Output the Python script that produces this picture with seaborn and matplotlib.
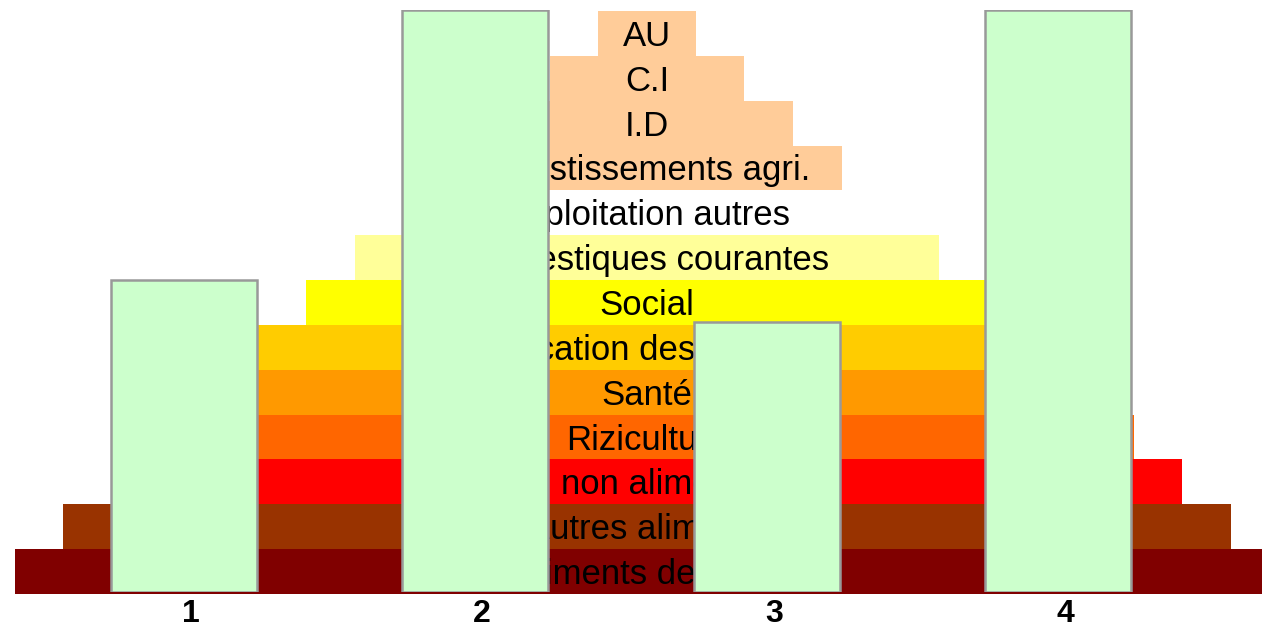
import numpy as np
import seaborn as sns
import matplotlib
matplotlib.use('Agg')
import matplotlib.pyplot as plt
from matplotlib.transforms import ScaledTranslation

# pyramid bands, bottom to top
band_labels = ['Aliments de base', 'Autres aliments', 'Dép. non alimentaires',
               'Riziculture', 'Santé', 'Education des enfants', 'Social',
               'Domestiques courantes', 'Exploitation autres',
               'Investissements agri.', 'I.D', 'C.I', 'AU']
band_widths = [13, 12, 11, 10, 9, 8, 7, 6, 5, 4, 3, 2, 1]
band_colors = ['#800000', '#993300', '#FF0000', '#FF6600', '#FF9900', '#FFCC00',
               '#FFFF00', '#FFFF99', '#FFFFFF', '#FFCC99', '#FFCC99', '#FFCC99',
               '#FFCC99']

# front columns
categories = ['1', '2', '3', '4']
values = [15, 28, 13, 28]

sns.set_theme(style='white')
plt.rcParams['font.family'] = ['Liberation Sans', 'DejaVu Sans']

fig = plt.figure(figsize=(12.62, 6.30), dpi=100)

# background pyramid
ax_bg = fig.add_axes([0, 36 / 630, 1, 583 / 630])
w = np.array(band_widths, dtype=float)
ypos = np.arange(len(band_labels))
ax_bg.barh(ypos, w, left=-w / 2, height=1.0, color=band_colors, linewidth=0)
shift = ScaledTranslation(0, -12.5 / 100, fig.dpi_scale_trans)
for y, lab in zip(ypos, band_labels):
    ax_bg.text(0, y, lab, ha='center', va='baseline', fontsize=25,
               color='black', transform=ax_bg.transData + shift)
ax_bg.set_xlim(-647 / 97.3, (1262 - 647) / 97.3)
ax_bg.set_ylim(-0.5, len(band_labels) - 0.5)
ax_bg.axis('off')

# front bars
ax = fig.add_axes([38 / 1262, 38 / 630, 1166 / 1262, 582 / 630])
ax.patch.set_alpha(0)
df = {'cat': categories, 'val': values}
sns.barplot(x='cat', y='val', data=df, color='#CCFFCC', saturation=1,
            edgecolor='#999999', linewidth=1.8, width=0.5, ax=ax)
ax.set_xlim(-0.5, len(categories) - 0.5)
ax.set_ylim(0, 28)
ax.set_xlabel('')
ax.set_ylabel('')
ax.set_yticks([])
for s in ax.spines.values():
    s.set_visible(False)
ax.tick_params(axis='x', length=0, pad=5, labelsize=23, labelcolor='black')
xshift = ScaledTranslation(7 / 100, 0, fig.dpi_scale_trans)
for lbl in ax.get_xticklabels():
    lbl.set_fontweight('bold')
    lbl.set_transform(lbl.get_transform() + xshift)

fig.savefig('out.png', dpi=100, facecolor='white')
